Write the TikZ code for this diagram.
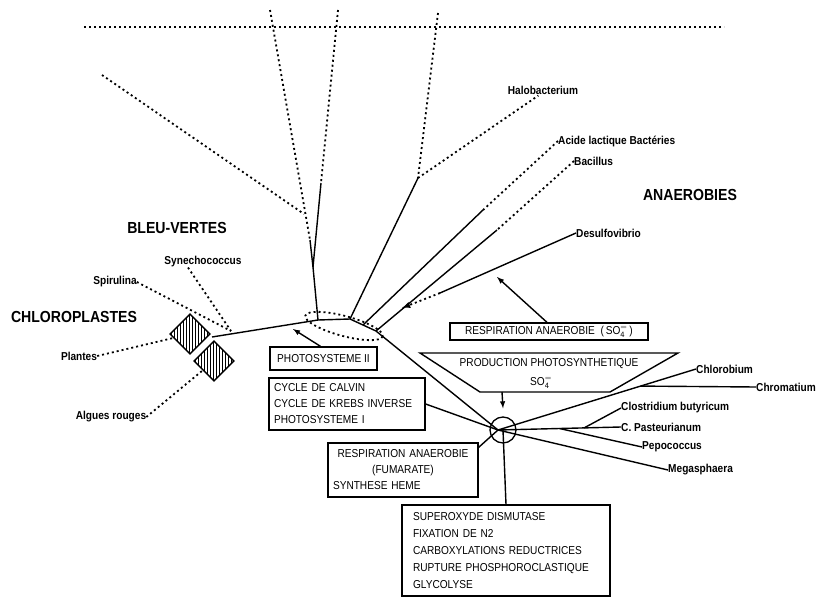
\documentclass[tikz,border=0pt]{standalone}
\usepackage{fontspec}
\setmainfont{Liberation Sans}[FakeStretch=0.88]
\usetikzlibrary{arrows,calc,patterns}
\tikzset{>=latex}
\tikzstyle{group}=[font=\bfseries\fontsize{16}{18}\selectfont,inner sep=0pt]
\tikzstyle{taxon}=[font=\bfseries\fontsize{11.5}{12}\selectfont,inner sep=0pt]
\tikzstyle{process}=[rectangle,draw=black,line width=1.3pt,font=\fontsize{11.5}{16}\selectfont,inner sep=0pt]
\tikzstyle{plastid}=[rectangle,draw=black,line width=1.4pt,pattern=vertical lines,minimum size=28pt,rotate=45]
\tikzstyle{branch}=[line width=1.4pt]
\tikzstyle{guess}=[line width=1.8pt,dash pattern=on 2pt off 3pt]

\begin{document}
\begin{tikzpicture}[x=1pt,y=-1pt]
	\useasboundingbox (0,0) rectangle (820,597);
	\def \rim {27}
	\def \hubx {503}
	\def \huby {430}

	% group names
	\node[group] (chloro) at (74,317) {CHLOROPLASTES};
	\node[group] (bleu) at (177,228) {BLEU-VERTES};
	\node[group] (anaero) at (690,195) {ANAEROBIES};

	% taxa
	\node[taxon] (spir) at (115,282) {Spirulina};
	\node[taxon] (syne) at (203,262) {Synechococcus};
	\node[taxon] (plantes) at (79,356) {Plantes};
	\node[taxon] (algues) at (111,417) {Algues rouges};
	\node[taxon] (halo) at (543,90) {Halobacterium};
	\node[taxon, anchor=west] (acide) at (558,141) {Acide lactique Bactéries};
	\node[taxon, anchor=west] (bacil) at (574,161) {Bacillus};
	\node[taxon, anchor=west] (desulfo) at (576,233) {Desulfovibrio};
	\node[taxon, anchor=west] (chlorob) at (696,369) {Chlorobium};
	\node[taxon, anchor=west] (chromat) at (756,387) {Chromatium};
	\node[taxon, anchor=west] (clostb) at (621,408) {Clostridium butyricum};
	\node[taxon, anchor=west] (clostp) at (621,427) {C. Pasteurianum};
	\node[taxon, anchor=west] (pepo) at (642,447) {Pepococcus};
	\node[taxon, anchor=west] (mega) at (668,470) {Megasphaera};

	% process boxes
	\node[process, minimum width=107, minimum height=23] (ps2) at (323.5,358.5) {PHOTOSYSTEME II};
	\node[process, minimum height=52, text width=146, inner xsep=5pt, align=left] (cycle) at (347,404)
		{CYCLE DE CALVIN\\CYCLE DE KREBS INVERSE\\PHOTOSYSTEME I};
	\node[process, minimum height=54, text width=140, inner xsep=5pt, align=center] (fumar) at (403,470)
		{RESPIRATION ANAEROBIE\\(FUMARATE)\\\makebox[140pt][l]{SYNTHESE HEME}};
	\node[process, minimum width=198, minimum height=17] (respso) at (549,331.5)
		{RESPIRATION ANAEROBIE \ (\,SO$_{\mathsf{4}}^{=}$\,)};
	\node[process, minimum height=91, text width=186, inner xsep=11pt, align=left, font=\fontsize{11.5}{17}\selectfont] (superox) at (506,550.5)
		{SUPEROXYDE DISMUTASE\\FIXATION DE N2\\CARBOXYLATIONS REDUCTRICES\\RUPTURE PHOSPHOROCLASTIQUE\\GLYCOLYSE};

	% photosynthetic production
	\coordinate (prodTL) at (420,353);
	\coordinate (prodTR) at (678,353);
	\coordinate (prodBR) at (610,392);
	\coordinate (prodBL) at (480,392);
	\draw[branch] (prodTL) -- (prodTR) -- (prodBR) -- (prodBL) -- cycle;
	\node[font=\fontsize{11.5}{14}\selectfont, inner sep=0pt] (prod) at (549,364) {PRODUCTION PHOTOSYNTHETIQUE};
	\node[font=\fontsize{11.5}{14}\selectfont, inner sep=0pt] (prodso) at (541,382.5) {SO$_{\mathsf{4}}^{=}$};
	\coordinate (prodout) at (502,392);

	% chloroplasts
	\node[plastid] (plant) at (190,334) {};
	\node[plastid] (algae) at (214,361) {};

	% hub
	\node[circle, draw=black, line width=1.3pt, minimum size=26pt, inner sep=0pt] (hub) at (\hubx,\huby) {};
	\coordinate (h) at (498,\huby);

	% main branch
	\coordinate (j0) at (212,337);
	\coordinate (p1) at (318,320);
	\coordinate (p2) at (350,319);
	\coordinate (q1) at (363,325);
	\coordinate (p3) at (376,331);
	\draw[branch] (j0) -- (p1) -- (p2) -- (p3) -- (h);
	\draw[guess, rotate around={-15:(344,326)}] (344,326) ellipse [x radius=40, y radius=10];

	% unknown border
	\coordinate (rimL) at (84,\rim);
	\coordinate (rimR) at (724,\rim);
	\draw[guess] (rimL) -- (rimR);

	% stems above the blue-greens
	\coordinate (j1) at (313,267);
	\coordinate (topA) at (270,10);
	\coordinate (midA) at (310,240);
	\coordinate (topB) at (338,10);
	\coordinate (midB) at (321,183);
	\coordinate (topC) at (102,75);
	\coordinate (joinC) at (304,214);
	\draw[guess] (topA) -- (midA);
	\draw[guess] (topB) -- (midB);
	\draw[guess] (topC) -- (joinC);
	\draw[branch] (midA) -- (j1);
	\draw[branch] (midB) -- (j1);
	\draw[branch] (j1) -- (p1);

	% halobacterium and co
	\coordinate (j2) at (418,178);
	\coordinate (topH) at (438,13);
	\draw[guess] (topH) -- (j2);
	\draw[guess, shorten >=2pt] (j2) -- ([xshift=-3pt]halo.south);
	\draw[branch] (j2) -- (p2);
	\coordinate (a2) at (483,210);
	\draw[guess] (acide.west) -- (a2);
	\draw[branch] (a2) -- (q1);
	\coordinate (b2) at (497,230);
	\draw[guess] (bacil.west) -- (b2);
	\draw[branch] (b2) -- (p3);
	\coordinate (d2) at (440,293);
	\coordinate (d3) at (402,308);
	\draw[branch] (desulfo.west) -- (d2);
	\draw[guess, ->] (d2) -- (d3);

	% chloroplast and blue-green taxa
	\coordinate (cyano) at (231,331);
	\draw[guess] (spir.east) -- (cyano);
	\draw[guess] ([xshift=-15pt]syne.south) -- (cyano);
	\draw[guess] (plantes.east) -- (plant);
	\draw[guess] (algues.east) -- (algae);

	% arrows from boxes
	\coordinate (ps2tip) at (293,329);
	\coordinate (resptip) at (497,277);
	\draw[branch, ->] ([xshift=-3pt]ps2.north) -- (ps2tip);
	\draw[branch, ->] ([xshift=-2pt]respso.north) -- (resptip);
	\draw[branch, ->] (prodout) -- ([yshift=8pt]hub.north);

	% links to hub
	\draw[branch] (cycle.east) -- (h);
	\draw[branch] ([yshift=-5pt]fumar.north east) -- (h);
	\draw[branch] (hub.center) -- (superox.north);

	% anaerobes
	\coordinate (fork1) at ($(h)!0.72!(chlorob.west)$);
	\coordinate (fork2) at ($(h)!0.7!(clostp.west)$);
	\coordinate (fork3) at ($(h)!0.5!(clostp.west)$);
	\draw[branch] (h) -- (chlorob.west);
	\draw[branch] (fork1) -- (chromat.west);
	\draw[branch] (h) -- (clostp.west);
	\draw[branch] (fork2) -- (clostb.west);
	\draw[branch] (fork3) -- (pepo.west);
	\draw[branch] (h) -- (mega.west);
\end{tikzpicture}
\end{document}
